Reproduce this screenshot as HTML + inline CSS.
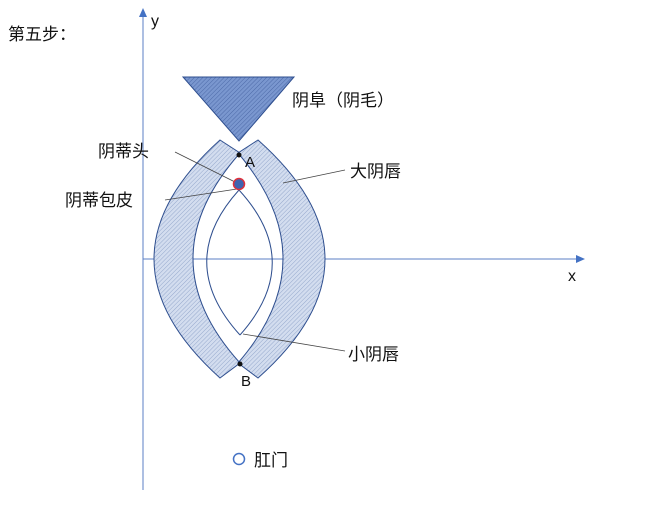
<!DOCTYPE html>
<html><head><meta charset="utf-8"><style>
html,body{margin:0;padding:0;background:#fff;}
svg text{font-family:"Liberation Sans","Noto Sans CJK SC",sans-serif;fill:#111;}
</style></head><body>
<svg width="650" height="503" viewBox="0 0 650 503" xmlns="http://www.w3.org/2000/svg">
<defs>
<pattern id="h" width="3" height="3" patternUnits="userSpaceOnUse" patternTransform="rotate(45)">
<rect width="3" height="3" fill="#d3ddef"/>
<line x1="0" y1="0" x2="0" y2="3" stroke="#95a8cc" stroke-width="1"/>
</pattern>
<pattern id="h2" width="3" height="3" patternUnits="userSpaceOnUse" patternTransform="rotate(45)">
<rect width="3" height="3" fill="#7a97cf"/>
<line x1="0" y1="0" x2="0" y2="3" stroke="#4d6aa8" stroke-width="1"/>
</pattern>
</defs>
<line x1="143" y1="490" x2="143" y2="14" stroke="#5b7fc4" stroke-width="1"/>
<polygon points="143,8 139,17 147,17" fill="#4472c4"/>
<line x1="143" y1="259" x2="578" y2="259" stroke="#5b7fc4" stroke-width="1"/>
<polygon points="585,259 576,255 576,263" fill="#4472c4"/>
<text x="151" y="26" font-size="16">y</text>
<text x="568" y="281" font-size="16">x</text>
<text x="8" y="40" font-size="17">第五步：</text>
<polygon points="183,77 294,77 239,141" fill="url(#h2)" stroke="#2f4f8f" stroke-width="1"/>
<path d="M220,140 L240,153 Q146,259 240,363 L220,378 Q88,259 220,140 Z" fill="url(#h)" stroke="#2f4f8f" stroke-width="1"/>
<path d="M258,140 L238,153 Q328,259 238,363 L258,378 Q392,259 258,140 Z" fill="url(#h)" stroke="#2f4f8f" stroke-width="1"/>
<path d="M239,190 Q174,262 240,335 M239,190 Q305,262 240,335" fill="none" stroke="#2f4f8f" stroke-width="1"/>
<line x1="175" y1="152" x2="237" y2="183" stroke="#444" stroke-width="0.8"/>
<line x1="165" y1="200" x2="237" y2="189" stroke="#444" stroke-width="0.8"/>
<line x1="345" y1="170" x2="283" y2="183" stroke="#444" stroke-width="0.8"/>
<line x1="345" y1="351" x2="243" y2="334" stroke="#444" stroke-width="0.8"/>
<circle cx="239" cy="184" r="5.5" fill="#3f64b0" stroke="#e0303a" stroke-width="1.5"/>
<circle cx="239" cy="155" r="2.5" fill="#111"/>
<circle cx="240" cy="364" r="2.5" fill="#111"/>
<text x="245" y="167" font-size="15">A</text>
<text x="241" y="386" font-size="15">B</text>
<text x="292" y="106" font-size="17">阴阜（阴毛）</text>
<text x="350" y="177" font-size="17">大阴唇</text>
<text x="98" y="157" font-size="17">阴蒂头</text>
<text x="65" y="206" font-size="17">阴蒂包皮</text>
<text x="348" y="360" font-size="17">小阴唇</text>
<circle cx="239" cy="459" r="5.5" fill="none" stroke="#4472c4" stroke-width="1.5"/>
<text x="254" y="466" font-size="17">肛门</text>
</svg>
</body></html>
